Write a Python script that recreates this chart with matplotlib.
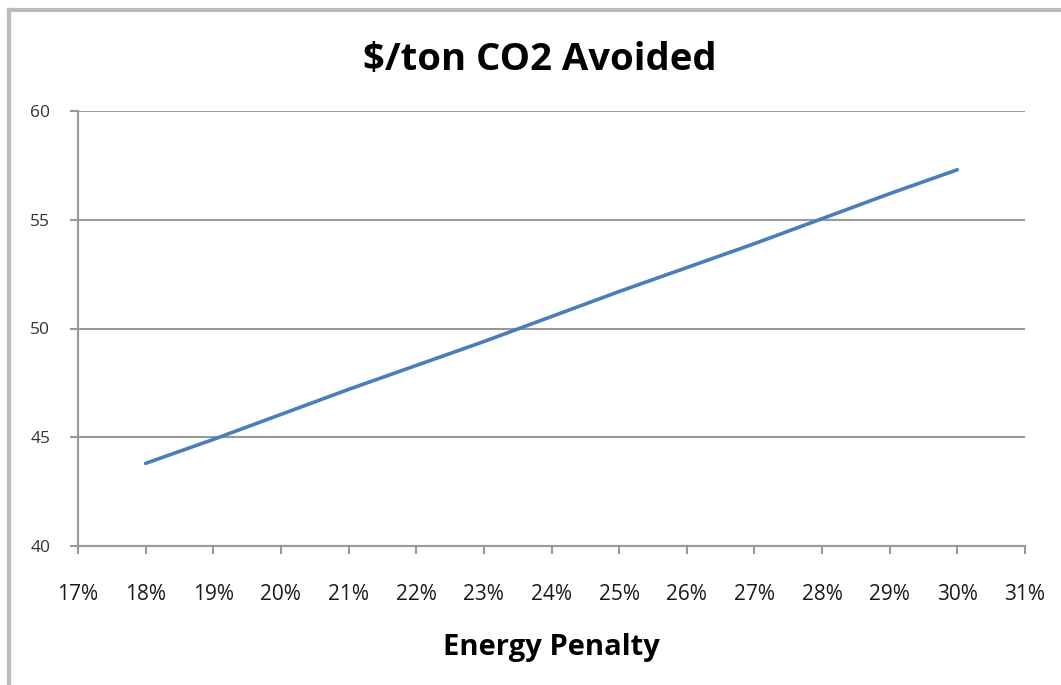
import matplotlib.pyplot as plt
from matplotlib.lines import Line2D

# Energy penalty (%) vs cost per ton CO2 avoided
penalty = [18, 19, 20, 21, 22, 23, 24, 25, 26, 27, 28, 29, 30]
cost = [43.8, 44.9, 46.05, 47.2, 48.3, 49.4, 50.55, 51.7, 52.8, 53.9, 55.05, 56.2, 57.3]
x_ticks = list(range(17, 32))
y_ticks = [40, 45, 50, 55, 60]

plt.rcParams['font.family'] = ['Open Sans', 'DejaVu Sans']

fig = plt.figure(figsize=(10.61, 6.85), dpi=100)
ax = fig.add_axes([78 / 1061, 1 - 546 / 685, (1025 - 78) / 1061, (546 - 111) / 685])

ax.plot(penalty, cost, color='#4a7ebb', linewidth=2.6, solid_capstyle='round')

ax.set_xlim(17, 31)
ax.set_ylim(40, 60)
ax.set_xticks(x_ticks)
ax.set_xticklabels([f'{v}%' for v in x_ticks], fontsize=15, color='#1a1a1a')
ax.set_yticks(y_ticks)
ax.set_yticklabels([str(v) for v in y_ticks], fontsize=12.5, color='#333333')
ax.tick_params(axis='x', length=6, width=1.5, color='#999999', pad=21)
ax.tick_params(axis='y', length=6, width=1.5, color='#999999', pad=14)
ax.yaxis.grid(True, color='#999999', linewidth=1.5)
ax.set_axisbelow(True)
for side in ['top', 'right']:
    ax.spines[side].set_visible(False)
for side in ['left', 'bottom']:
    ax.spines[side].set_color('#999999')
    ax.spines[side].set_linewidth(1.5)

fig.text(540 / 1061, 1 - 60 / 685, '$/ton CO2 Avoided', ha='center', va='center',
         fontsize=27.5, fontweight='bold')
fig.text(551 / 1061, 1 - 648 / 685, 'Energy Penalty', ha='center', va='center',
         fontsize=21, fontweight='bold')

# chart frame (left and top edges)
fig.add_artist(Line2D([9 / 1061, 9 / 1061], [0, 1 - 10 / 685], color='#bbbbbb', linewidth=3,
                      transform=fig.transFigure))
fig.add_artist(Line2D([9 / 1061, 1], [1 - 10 / 685, 1 - 10 / 685], color='#bbbbbb', linewidth=3,
                      transform=fig.transFigure))

fig.savefig('out.png', dpi=100)
